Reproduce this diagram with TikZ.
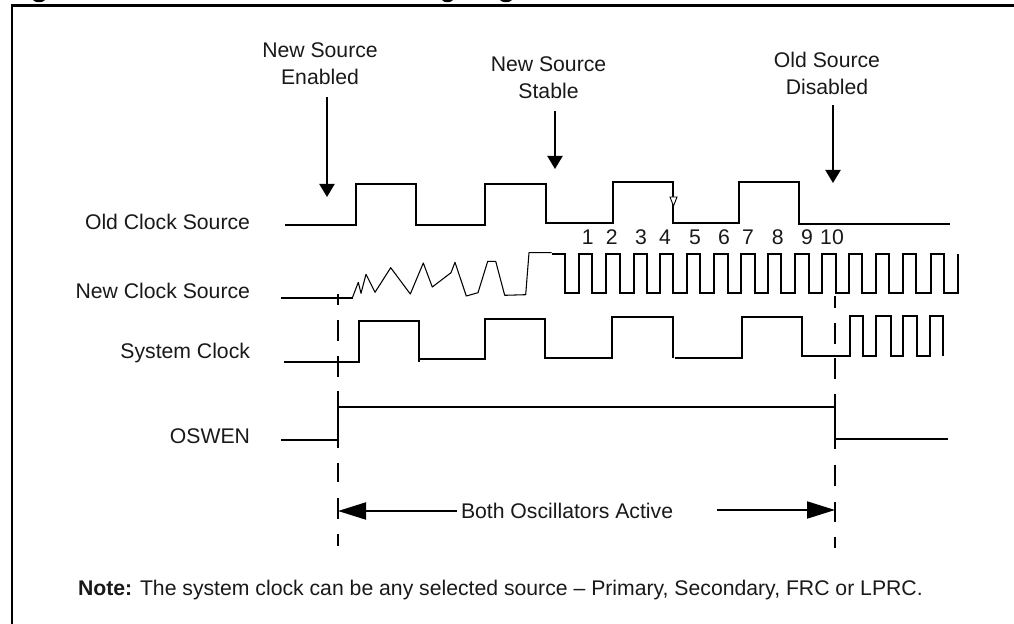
\documentclass[tikz,border=0pt]{standalone}
\usepackage{fontspec}
\setmainfont{Liberation Sans}
\usetikzlibrary{arrows.meta}
\tikzset{
  frameline/.style={line width=1.6pt,line cap=butt},
  wave/.style={line width=1.5pt,line join=miter},
  thinwave/.style={line width=0.8pt,line join=round},
  guide/.style={line width=1.5pt},
  marker/.style={line width=1.5pt,-{Triangle[length=9.75pt,width=11.25pt,fill=black]}},
  span/.style={line width=1.5pt,-{Triangle[length=21pt,width=12.75pt,fill=black]}},
  label/.style={inner sep=0pt,outer sep=0pt,text=black!90,font=\fontsize{15.9}{20.25}\selectfont},
  sig/.style={label,anchor=base east},
  callout/.style={label,align=center,anchor=base},
  num/.style={label,anchor=base}
}
\begin{document}
\begin{tikzpicture}[x=0.75pt,y=-0.75pt]
\useasboundingbox (0,0) rectangle (1014,624);
% clipped title descenders
\fill (33,0) .. controls (35,3) and (43,3) .. (45,0) -- cycle;
\fill (442,0) .. controls (444,3) and (451,3) .. (453,0) -- cycle;
\fill (500,0) .. controls (502,3) and (510,3) .. (512,0) -- cycle;
% frame
\draw[frameline] (12,624) -- (12,5.5) -- (1014,5.5);
% signal names
\node[sig] (oldclk) at (250,229) {Old Clock Source};
\node[sig] (newclk) at (250,298) {New Clock Source};
\node[sig] (sysclk) at (250,358) {System Clock};
\node[sig] (oswen) at (250,443) {OSWEN};
% callouts
\node[callout] (enabled) at (320,85) {New Source\\Enabled};
\node[callout] (stable) at (548.5,99) {New Source\\Stable};
\node[callout] (disabled) at (827,95) {Old Source\\Disabled};
\coordinate (ea) at (327,97); \coordinate (eb) at (327,197);
\coordinate (sa) at (555,111); \coordinate (sb) at (555,169);
\coordinate (da) at (833,105); \coordinate (db) at (833,183);
\draw[marker] (ea) -- (eb);
\draw[marker] (sa) -- (sb);
\draw[marker] (da) -- (db);
% old clock
\draw[wave] (285,225) -- (356,225) -- (356,184) -- (416,184) -- (416,225) -- (485,225) -- (485,184) -- (546,184) -- (546,224.5);
\draw[wave] (545,223) -- (613,223) -- (613,182) -- (673,182) -- (673,223) -- (739,223) -- (739,182) -- (799,182) -- (799,224) -- (950,224);
\draw[line width=0.7pt,fill=white] (670,197) -- (677,197) -- (673.5,206) -- cycle;
% cycle numbers
\foreach \n/\cx in {1/587.7,2/611.7,3/641,4/665,5/695,6/724,7/748,8/777.7,9/807,10/832}
  \node[num] (n\n) at (\cx,244) {\n};
% new clock
\draw[wave] (281,298) -- (353,298);
\draw[thinwave] (352.3,298) -- (358.3,282.3) -- (361,293.3) -- (366,274.3) -- (375,292.3) -- (390.7,267.7) -- (410.3,294) -- (423.3,263) -- (432.3,287) -- (451,272.7) -- (455,262.3) -- (466.3,296) -- (478,292.7) -- (487.7,261.3) -- (495.7,261.3) -- (504.7,295.3) -- (525.7,294.7) -- (529,252.7) -- (551.7,252.7);
\draw[wave] (551.7,253.7) -- (565,253.7) -- (565,293.3) -- (579,293.3) -- (579,254) -- (592.3,254) -- (592.3,293.3) -- (606.3,293.3) -- (606.3,254) -- (620,254) -- (620,293.3) -- (633.7,293.3) -- (633.7,254) -- (647.3,254) -- (647.3,293.3) -- (660.3,293.3) -- (660.3,254) -- (673.3,254) -- (673.3,293.3) -- (687,293.3) -- (687,254) -- (700,254) -- (700,293.3) -- (714,293.3) -- (714,254) -- (727.7,254) -- (727.7,293.3) -- (741.3,293.3) -- (741.3,254) -- (755,254) -- (755,293.3) -- (767.7,293.3) -- (767.7,254) -- (781,254) -- (781,293.3) -- (794.7,293.3) -- (794.7,254) -- (808.7,254) -- (808.7,293.3) -- (822.3,293.3) -- (822.3,254) -- (836,254) -- (836,293.3) -- (849,293.3) -- (849,254) -- (862,254) -- (862,293.3) -- (876,293.3) -- (876,254) -- (889,254) -- (889,293.3) -- (903,293.3) -- (903,254) -- (916.3,254) -- (916.3,293.3) -- (930.7,293.3) -- (930.7,254) -- (944,254) -- (944,293.3) -- (958.3,293.3) -- (958.3,254);
% system clock
\draw[wave] (284,361.7) -- (359,361.7) -- (359,320.7) -- (419,320.7) -- (419,361.7);
\draw[wave] (418,358.7) -- (485,358.7) -- (485,319) -- (545,319) -- (545,357.7) -- (611.7,357.7) -- (611.7,316.7) -- (673.3,316.7) -- (673.3,357.7);
\draw[wave] (675,357.7) -- (741.7,357.7) -- (741.7,316.7) -- (801.7,316.7) -- (801.7,356) -- (850,356) -- (850,316) -- (862.7,316) -- (862.7,356) -- (876,356) -- (876,316) -- (890.7,316) -- (890.7,356) -- (903.3,356) -- (903.3,316) -- (916.7,316) -- (916.7,356) -- (930,356) -- (930,316) -- (943.3,316) -- (943.3,356);
% OSWEN
\draw[wave] (281,440) -- (338,440);
\draw[wave] (338,407) -- (835,407);
\draw[wave] (835,439) -- (948,439);
% guides
\foreach \a/\b in {294/305,320/341,356/377,391/448,463/482,498/519,534/546}
  \draw[guide] (338,\a) -- (338,\b);
\foreach \a/\b in {296/308,323/344,358/379,394/449,465/486,502/522,537/548}
  \draw[guide] (835,\a) -- (835,\b);
% span
\node[label,anchor=base west] (both) at (461,518) {Both Oscillators Active};
\coordinate (la) at (338,511); \coordinate (ra) at (835,510);
\coordinate (lb) at (457,511); \coordinate (rb) at (717,510);
\draw[span] (lb) -- (la);
\draw[span] (rb) -- (ra);
% note
\node[label,anchor=base west] (note) at (78,595) {\textbf{Note:} The system clock can be any selected source – Primary, Secondary, FRC or LPRC.};
\end{tikzpicture}
\end{document}
